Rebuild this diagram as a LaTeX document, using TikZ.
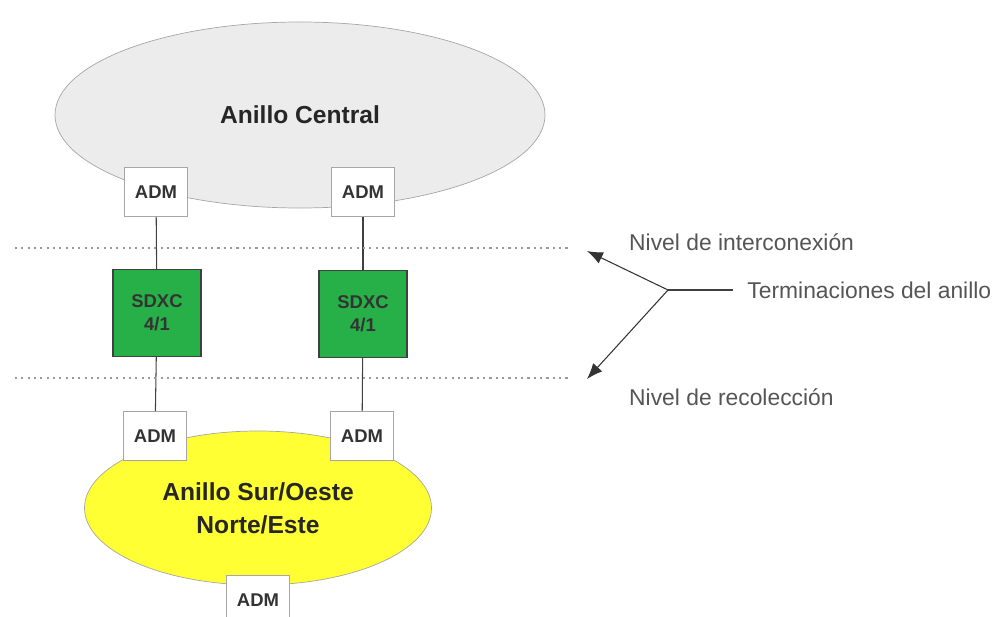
\documentclass[tikz,border=0pt]{standalone}
\usepackage{fontspec}
\setmainfont{Liberation Sans}
\usepackage{xcolor}
\usetikzlibrary{arrows.meta, positioning, shapes.geometric, calc}
\definecolor{ringgray}{RGB}{236,236,236}
\definecolor{ringyellow}{RGB}{255,255,51}
\definecolor{sdxcgreen}{RGB}{40,176,72}
\definecolor{labelgray}{RGB}{85,85,85}

\begin{document}
\begin{tikzpicture}[
    ring/.style={ellipse, draw=gray!70, thin, font=\fontsize{14}{18.7}\selectfont\bfseries, text=black!85, align=center},
    adm/.style={draw=gray!70, fill=white, minimum width=1.26cm, minimum height=0.98cm, font=\fontsize{10.5}{12}\selectfont\bfseries, text=black!80},
    sdxc/.style={draw=black!75, semithick, fill=sdxcgreen, minimum width=1.76cm, minimum height=1.74cm, align=center, font=\fontsize{10.5}{13}\selectfont\bfseries, text=black!80},
    link/.style={draw=black!75, semithick},
    level/.style={draw=gray!80, line width=0.9pt, dash pattern=on 1.2pt off 2.4pt},
    note/.style={anchor=west, font=\fontsize{13}{15}\selectfont, text=labelgray},
    arrow/.style={-{Latex[length=9pt, width=7pt]}, draw=black!80, semithick}
]
\useasboundingbox (0,0) rectangle (19.84,12.32);

% Rings
\node[ring, fill=ringgray, minimum width=9.8cm, minimum height=3.72cm] (central) at (6.0, 10.02) {Anillo Central};
\node[ring, fill=ringyellow, minimum width=6.94cm, minimum height=3.08cm] (sur) at (5.16, 2.16) {Anillo Sur/Oeste\\Norte/Este};

% ADM of the central ring
\node[adm] (admA) at (3.12, 8.48) {ADM};
\node[adm] (admB) at (7.26, 8.48) {ADM};

% Cross connects
\node[sdxc] (sdxcA) at (3.14, 6.06) {SDXC\\4/1};
\node[sdxc] (sdxcB) at (7.26, 6.04) {SDXC\\4/1};

% ADM of the lower ring
\node[adm] (admC) at (3.10, 3.60) {ADM};
\node[adm] (admD) at (7.24, 3.60) {ADM};
\node[adm] (admE) at (5.16, 0.32) {ADM};

% Links
\draw[link] (admA) -- (sdxcA);
\draw[link] (sdxcA) -- (admC);
\draw[link] (admB) -- (sdxcB);
\draw[link] (sdxcB) -- (admD);

% Levels
\coordinate (interL) at (0.30, 7.36);
\coordinate (interR) at (11.40, 7.36);
\coordinate (recoL) at (0.30, 4.76);
\coordinate (recoR) at (11.40, 4.76);
\draw[level] (interL) -- (interR);
\draw[level] (recoL) -- (recoR);

% Labels
\node[note] (inter) at (12.46, 7.48) {Nivel de interconexión};
\node[note] (reco) at (12.46, 4.38) {Nivel de recolección};
\node[note, inner xsep=8pt] (term) at (14.66, 6.52) {Terminaciones del anillo};

% Arrows
\coordinate (fork) at (13.36, 6.52);
\coordinate (tipUp) at (11.74, 7.30);
\coordinate (tipDown) at (11.74, 4.74);
\draw[link] (fork) -- (term.west);
\draw[arrow] (fork) -- (tipUp);
\draw[arrow] (fork) -- (tipDown);
\end{tikzpicture}
\end{document}
